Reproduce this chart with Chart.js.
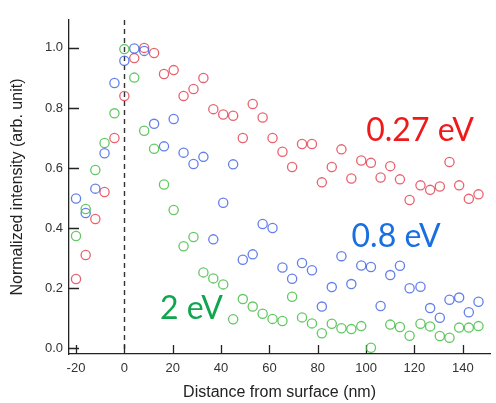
<!DOCTYPE html>
<html>
<head>
<meta charset="utf-8">
<script src="https://cdn.jsdelivr.net/npm/chart.js@4"></script>
<style>
  html, body { margin: 0; padding: 0; background: #fff; }
  #wrap { width: 496px; height: 403px; }
</style>
</head>
<body>
<div id="wrap"><canvas id="chart" width="496" height="403"></canvas></div>
<script>
// distance from surface (nm), shared by all three series
const distance = [-20, -16, -12, -8.2, -4.1, 0, 4.1, 8.2, 12.3, 16.4, 20.4, 24.5, 28.6, 32.7, 36.8,
  40.9, 45, 49, 53.1, 57.2, 61.3, 65.4, 69.4, 73.5, 77.6, 81.7, 85.8, 89.8, 93.9, 98,
  102, 106, 110, 114, 118, 122.5, 126.5, 130.5, 134.5, 138.5, 142.5, 146.5];

const red027 = [0.23, 0.31, 0.43, 0.52, 0.70, 0.84, 0.966, 1.0, 0.983, 0.913, 0.926, 0.84, 0.863, 0.90, 0.796,
  0.778, 0.774, 0.70, 0.813, 0.768, 0.70, 0.654, 0.603, 0.68, 0.68, 0.552, 0.603, 0.662, 0.565, 0.625,
  0.617, 0.568, 0.606, 0.562, 0.493, 0.542, 0.527, 0.538, 0.62, 0.542, 0.497, 0.512];

const blue08 = [0.498, 0.45, 0.531, 0.649, 0.883, 0.957, 0.998, 0.99, 0.747, 0.672, 0.763, 0.651, 0.613, 0.637, 0.362,
  0.484, 0.612, 0.294, 0.312, 0.413, 0.40, 0.268, 0.231, 0.283, 0.259, 0.138, 0.203, 0.306, 0.213, 0.275,
  0.27, 0.14, 0.243, 0.274, 0.199, 0.204, 0.133, 0.101, 0.161, 0.168, 0.119, 0.154];

const green2 = [0.373, 0.463, 0.593, 0.683, 0.782, 0.996, 0.901, 0.724, 0.664, 0.545, 0.46, 0.339, 0.37, 0.252, 0.232,
  0.212, 0.096, 0.163, 0.138, 0.114, 0.097, 0.09, 0.171, 0.102, 0.082, 0.049, 0.081, 0.066, 0.063, 0.073,
  0.001, null, 0.078, 0.07, 0.041, 0.081, 0.072, 0.04, 0.034, 0.068, 0.068, 0.073];

const xTicks = [-20, 0, 20, 40, 60, 80, 100, 120, 140];
const yTicks = [0.0, 0.2, 0.4, 0.6, 0.8, 1.0];

// series labels, placed in data coordinates
const labels = [
  { text: '0.27 eV', x: 122.3, y: 0.725, color: '#ee1a1a' },
  { text: '0.8 eV', x: 112.4, y: 0.372, color: '#1a6fe0' },
  { text: '2 eV', x: 27.8, y: 0.13, color: '#12a550' },
];

function points(ys) {
  return distance.map((x, i) => ({ x, y: ys[i] })).filter(p => p.y !== null);
}

function ringSet(ys, color) {
  return {
    data: points(ys),
    borderColor: color,
    backgroundColor: 'rgba(0,0,0,0)',
    pointRadius: 4.6,
    pointHoverRadius: 4.6,
    borderWidth: 1.3,
    showLine: false,
  };
}

const extras = {
  id: 'extras',
  beforeDatasetsDraw(chart) {
    const { ctx, chartArea, scales: { x, y } } = chart;
    ctx.save();
    // dashed line at the surface
    ctx.strokeStyle = '#333';
    ctx.lineWidth = 1.4;
    ctx.setLineDash([5, 4]);
    const x0 = Math.round(x.getPixelForValue(0)) + 0.5;
    ctx.beginPath();
    ctx.moveTo(x0, chartArea.top);
    ctx.lineTo(x0, chartArea.bottom);
    ctx.stroke();
    ctx.setLineDash([]);
    // inward tick marks
    ctx.strokeStyle = '#222';
    ctx.lineWidth = 1.3;
    ctx.beginPath();
    xTicks.forEach(v => {
      const px = Math.round(x.getPixelForValue(v)) + 0.5;
      ctx.moveTo(px, chartArea.bottom);
      ctx.lineTo(px, chartArea.bottom - 9);
    });
    yTicks.forEach(v => {
      const py = Math.round(y.getPixelForValue(v)) + 0.5;
      ctx.moveTo(chartArea.left, py);
      ctx.lineTo(chartArea.left + 10, py);
    });
    ctx.stroke();
    // series labels
    ctx.font = '32px Lato, "Noto Sans", sans-serif';
    ctx.textAlign = 'center';
    ctx.textBaseline = 'middle';
    labels.forEach(l => {
      ctx.fillStyle = l.color;
      ctx.fillText(l.text, x.getPixelForValue(l.x), y.getPixelForValue(l.y));
    });
    ctx.restore();
  },
};

const axisFont = { family: '"Liberation Sans", Arial', size: 13 };
const titleFont = { family: '"Liberation Sans", Arial', size: 16 };

new Chart(document.getElementById('chart'), {
  type: 'scatter',
  data: {
    datasets: [
      ringSet(green2, 'rgba(70,190,70,0.85)'),
      ringSet(blue08, 'rgba(70,105,230,0.85)'),
      ringSet(red027, 'rgba(228,70,85,0.85)'),
    ],
  },
  options: {
    responsive: false,
    animation: false,
    layout: { padding: { top: 20, right: 1, left: 0, bottom: 0 } },
    plugins: { legend: { display: false }, tooltip: { enabled: false } },
    scales: {
      x: {
        type: 'linear',
        min: -22.9,
        max: 151.3,
        afterBuildTicks: (s) => { s.ticks = xTicks.map(v => ({ value: v })); },
        afterFit: (s) => { s.height = 49; },
        grid: { display: false, drawTicks: false },
        border: { display: true, color: '#222', width: 1.3 },
        ticks: { padding: 7, color: '#333', font: axisFont },
        title: {
          display: true,
          text: 'Distance from surface (nm)',
          color: '#222',
          font: titleFont,
          padding: { top: 0, bottom: 1 },
        },
      },
      y: {
        type: 'linear',
        min: -0.02,
        max: 1.093,
        afterBuildTicks: (s) => { s.ticks = yTicks.map(v => ({ value: v })); },
        afterFit: (s) => { s.width = 69; },
        grid: { display: false, drawTicks: false },
        border: { display: true, color: '#222', width: 1.3 },
        ticks: {
          padding: 6,
          color: '#333',
          font: axisFont,
          callback: (v) => Number(v).toFixed(1),
        },
        title: {
          display: true,
          text: 'Normalized intensity (arb. unit)',
          color: '#222',
          font: titleFont,
          padding: { top: 8, bottom: 0 },
        },
      },
    },
  },
  plugins: [extras],
});
</script>
</body>
</html>
